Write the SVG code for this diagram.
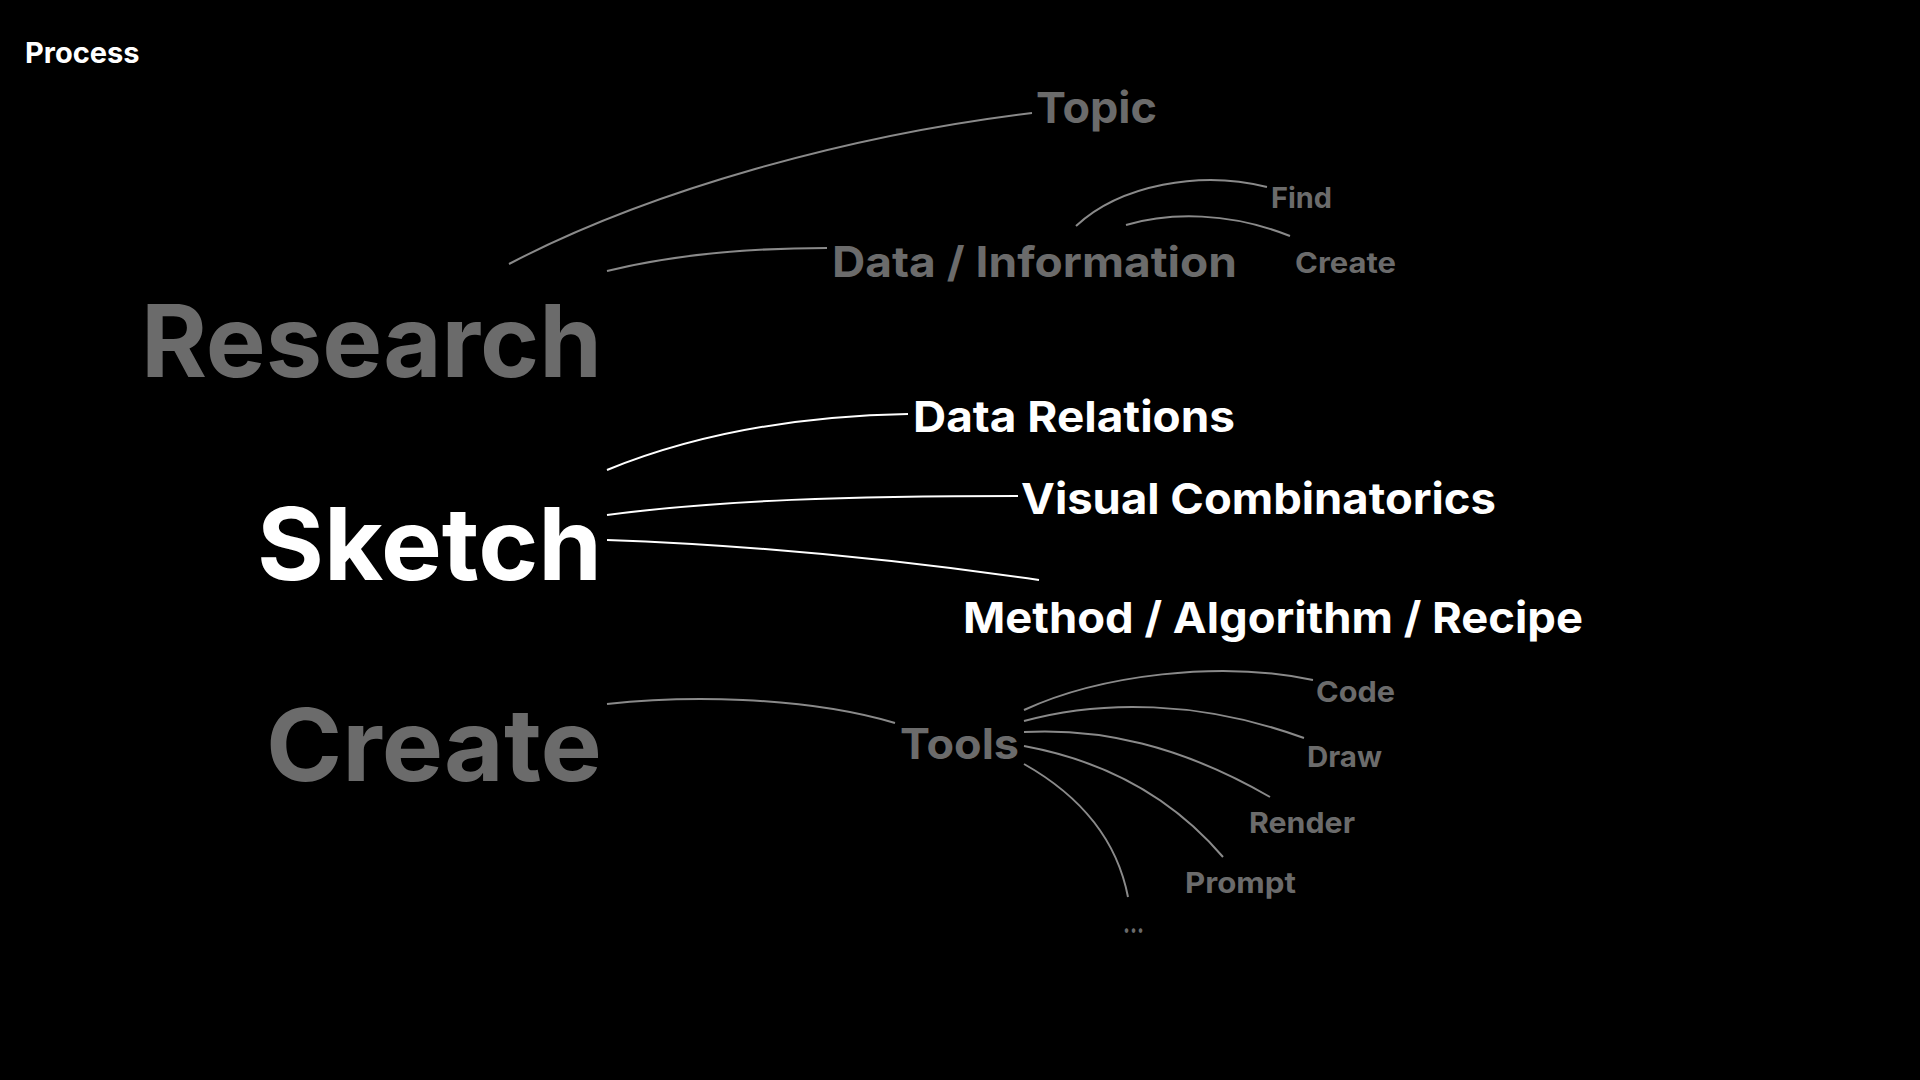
<svg xmlns="http://www.w3.org/2000/svg" width="1920" height="1080" viewBox="0 0 1920 1080">
<style>
text{font-family:Inter,"Noto Sans","Liberation Sans",sans-serif;font-weight:700}
.g{fill:#6b6b6b}
.w{fill:#ffffff}
.big{font-size:100px;text-anchor:end}
.mid{font-size:43px}
.sm{font-size:29px}
.lg{fill:none;stroke:#8a8a8a;stroke-width:2}
.lw{fill:none;stroke:#ffffff;stroke-width:2}
</style>
<rect width="1920" height="1080" fill="#000"/>
<text x="25" y="63" class="w" font-size="29">Process</text>
<g id="connectors">
<path class="lg" d="M509,264 C650,190 850,135 1032,113"/>
<path class="lg" d="M607,271 C680,253 760,248 827,248"/>
<path class="lg" d="M1076,226 C1120,185 1200,170 1267,187"/>
<path class="lg" d="M1126,225 C1170,212 1230,212 1290,236"/>
<path class="lw" d="M607,470 C700,432 800,416 908,414"/>
<path class="lw" d="M607,515 C720,500 850,496 1018,496"/>
<path class="lw" d="M607,540 C750,545 900,560 1039,580"/>
<path class="lg" d="M607,704 C680,696 800,695 895,723"/>
<path class="lg" d="M1024,710 C1100,675 1220,660 1313,680"/>
<path class="lg" d="M1024,721 C1100,700 1200,700 1304,738"/>
<path class="lg" d="M1024,732 C1100,728 1180,745 1270,797"/>
<path class="lg" d="M1024,746 C1100,760 1170,795 1223,857"/>
<path class="lg" d="M1024,764 C1070,790 1115,830 1128,897"/>
</g>
<g id="research"><text x="602" y="377" class="g big" textLength="461" lengthAdjust="spacingAndGlyphs">Research</text></g>
<g id="sketch"><text x="602" y="580" class="w big" textLength="345" lengthAdjust="spacingAndGlyphs">Sketch</text></g>
<g id="create"><text x="602" y="781" class="g big" textLength="336" lengthAdjust="spacingAndGlyphs">Create</text></g>
<g id="topic"><text x="1036" y="123" class="g mid" textLength="121" lengthAdjust="spacingAndGlyphs">Topic</text></g>
<g id="data-information"><text x="832" y="277" class="g" font-size="42" textLength="405" lengthAdjust="spacingAndGlyphs">Data / Information</text></g>
<g id="find"><text x="1271" y="208" class="g" font-size="28" textLength="61" lengthAdjust="spacingAndGlyphs">Find</text></g>
<g id="create-data"><text x="1295" y="273" class="g" font-size="28" textLength="101" lengthAdjust="spacingAndGlyphs">Create</text></g>
<g id="data-relations"><text x="913" y="432" class="w mid" textLength="322" lengthAdjust="spacingAndGlyphs">Data Relations</text></g>
<g id="visual-combinatorics"><text x="1021" y="514" class="w mid" textLength="475" lengthAdjust="spacingAndGlyphs">Visual Combinatorics</text></g>
<g id="method"><text x="963" y="633" class="w mid" textLength="620" lengthAdjust="spacingAndGlyphs">Method / Algorithm / Recipe</text></g>
<g id="tools"><text x="900" y="759" class="g" font-size="42" textLength="119" lengthAdjust="spacingAndGlyphs">Tools</text></g>
<g id="code"><text x="1316" y="702" class="g sm" textLength="79" lengthAdjust="spacingAndGlyphs">Code</text></g>
<g id="draw"><text x="1307" y="767" class="g sm" textLength="75" lengthAdjust="spacingAndGlyphs">Draw</text></g>
<g id="render"><text x="1249" y="833" class="g sm" textLength="106" lengthAdjust="spacingAndGlyphs">Render</text></g>
<g id="prompt"><text x="1185" y="893" class="g sm" textLength="111" lengthAdjust="spacingAndGlyphs">Prompt</text></g>
<g id="more"><text x="1123" y="933" class="g sm" textLength="21" lengthAdjust="spacingAndGlyphs">...</text></g>
</svg>
